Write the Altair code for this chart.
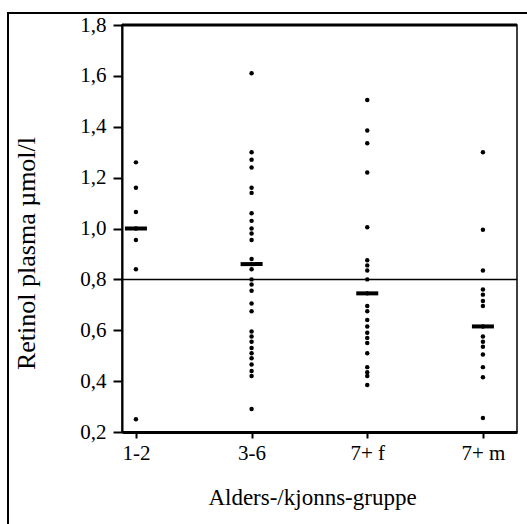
import altair as alt
import pandas as pd

groups = ["1-2", "3-6", "7+ f", "7+ m"]
vals_12 = [1.26, 1.16, 1.065, 1.0, 0.955, 0.84, 0.25]
vals_36 = [1.61, 1.30, 1.27, 1.24, 1.16, 1.14, 1.06, 1.03, 1.00, 0.98, 0.955,
           0.88, 0.86, 0.84, 0.80, 0.78, 0.755, 0.705, 0.675, 0.595, 0.575,
           0.555, 0.53, 0.51, 0.49, 0.465, 0.44, 0.42, 0.29]
vals_7f = [1.505, 1.385, 1.335, 1.22, 1.005, 0.875, 0.855, 0.835, 0.80, 0.745,
           0.695, 0.675, 0.64, 0.615, 0.59, 0.57, 0.55, 0.51, 0.455, 0.435,
           0.42, 0.385]
vals_7m = [1.30, 0.995, 0.835, 0.76, 0.74, 0.715, 0.695, 0.615, 0.575, 0.555,
           0.535, 0.505, 0.455, 0.415, 0.255]
medians = [1.0, 0.86, 0.745, 0.615]
reference = [0.8]
y_ticks = [0.2, 0.4, 0.6, 0.8, 1.0, 1.2, 1.4, 1.6, 1.8]

rows = []
for g, vals in zip(groups, [vals_12, vals_36, vals_7f, vals_7m]):
    for v in vals:
        rows.append({"group": g, "value": v})
points_df = pd.DataFrame(rows)
med_df = pd.DataFrame({"group": groups, "value": medians})
ref_df = pd.DataFrame({"value": reference})
top_df = pd.DataFrame({"value": [y_ticks[-1]]})

FONT = "Liberation Serif"

x_enc = alt.X(
    "group:N",
    sort=groups,
    scale=alt.Scale(type="point", domain=groups, padding=0.2075, align=0.29),
    axis=alt.Axis(
        title="Alders-/kjonns-gruppe",
        labelAngle=0,
        labelFont=FONT,
        labelFontSize=21,
        labelColor="black",
        labelPadding=4,
        tickSize=6,
        tickWidth=2,
        tickColor="black",
        domainColor="black",
        domainWidth=3,
        titleFont=FONT,
        titleFontSize=23,
        titleFontWeight="normal",
        titleColor="black",
        titleX=190,
        titleY=65,
        titleAlign="center",
        titleBaseline="middle",
        grid=False,
    ),
)

y_scale = alt.Scale(domain=[0.2, 1.8], nice=False, zero=False)
y_axis = alt.Axis(
    title="Retinol plasma µmol/l",
    values=y_ticks,
    labelExpr="replace(format(datum.value, '.1f'), '.', ',')",
    labelFont=FONT,
    labelFontSize=21,
    labelColor="black",
    labelPadding=7,
    tickSize=9,
    tickWidth=2,
    tickColor="black",
    domainColor="black",
    domainWidth=2,
    titleFont=FONT,
    titleFontSize=26,
    titleFontWeight="normal",
    titleColor="black",
    titleAngle=-90,
    titleX=-96,
    titleY=228,
    titleAlign="center",
    titleBaseline="middle",
    grid=False,
)

pts = alt.Chart(points_df).mark_circle(size=20, color="black", opacity=1).encode(
    x=x_enc,
    y=alt.Y("value:Q", scale=y_scale, axis=y_axis),
)

med = alt.Chart(med_df).mark_tick(color="black", size=22, thickness=4, opacity=1).encode(
    x=alt.X("group:N", sort=groups),
    y=alt.Y("value:Q"),
)

ref = alt.Chart(ref_df).mark_rule(color="black", strokeWidth=1.5).encode(
    y=alt.Y("value:Q"),
)

top = alt.Chart(top_df).mark_rule(color="black", strokeWidth=3).encode(
    y=alt.Y("value:Q"),
)

frame_top = alt.Chart(top_df).mark_rule(color="black", strokeWidth=2).encode(
    x=alt.value(-114), x2=alt.value(405), y=alt.value(-12)
)
frame_left = alt.Chart(top_df).mark_rule(color="black", strokeWidth=2).encode(
    x=alt.value(-114), y=alt.value(-13), y2=alt.value(499)
)

chart = alt.layer(frame_top, frame_left, ref, top, pts, med).properties(
    width=395,
    height=407,
    autosize=alt.AutoSizeParams(type="none"),
    padding={"left": 122, "top": 25, "right": 10, "bottom": 92},
    background="white",
).configure_view(stroke="black", strokeWidth=1.5)

chart.save("out.html", embed_options={"renderer": "svg", "actions": False})
